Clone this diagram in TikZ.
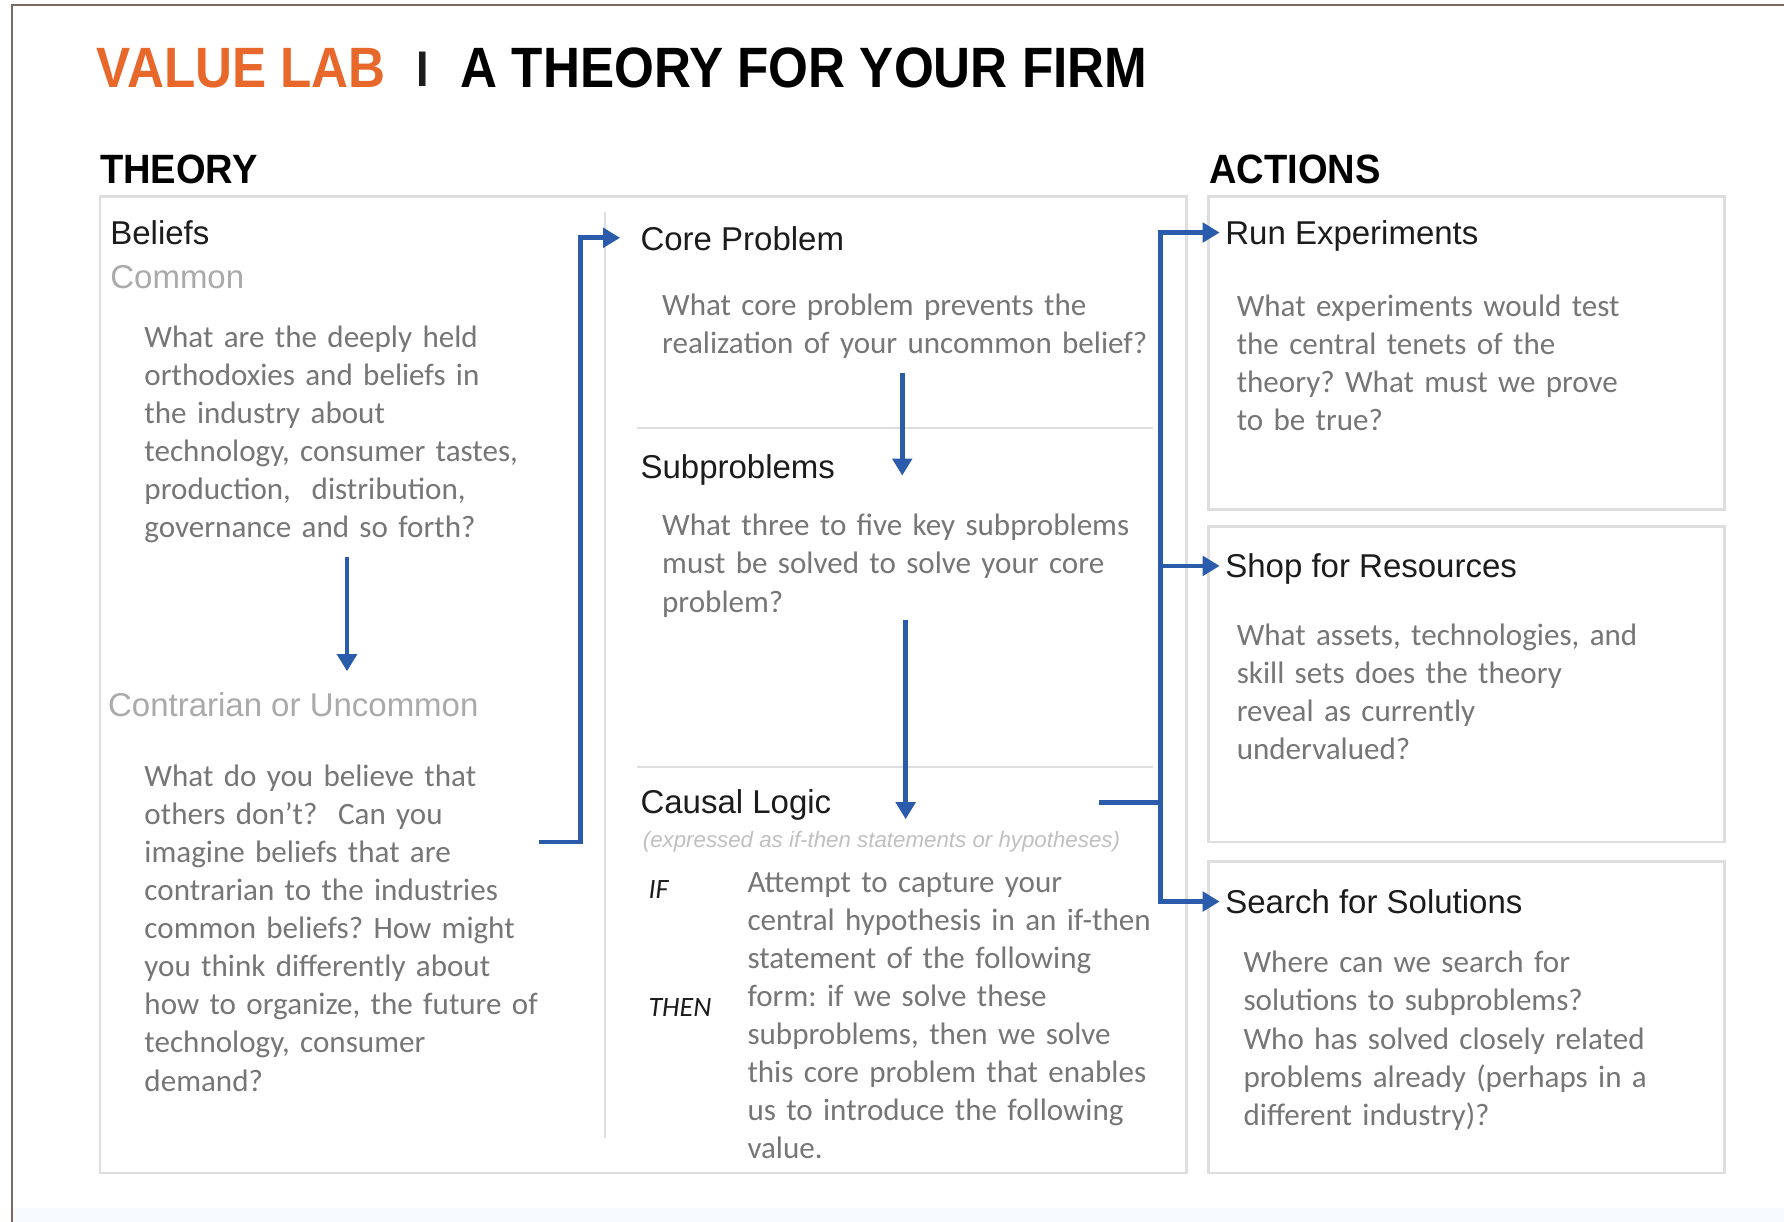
\documentclass[tikz,border=0pt]{standalone}
\usepackage{fontspec}
\setmainfont{Carlito}
\newfontfamily\sansfont{Liberation Sans}
\newfontfamily\titlefont[FakeStretch=0.9]{Liberation Sans}
\newfontfamily\sectfont[FakeStretch=0.93]{Liberation Sans}
\usetikzlibrary{arrows.meta}
\frenchspacing

\definecolor{labOrange}{RGB}{232,104,44}
\definecolor{flowBlue}{RGB}{43,92,171}
\definecolor{bodyGray}{RGB}{118,118,118}
\definecolor{subGray}{RGB}{170,170,170}
\definecolor{noteGray}{RGB}{192,192,192}
\definecolor{panelLine}{RGB}{222,222,222}
\definecolor{frameLine}{RGB}{122,106,100}
\definecolor{inkBlack}{RGB}{28,28,28}
\definecolor{footBand}{RGB}{246,250,252}

\begin{document}
\begin{tikzpicture}[x=0.5pt,y=-0.5pt,
  txt/.style={anchor=base west, inner sep=0pt, outer sep=0pt},
  heading/.style={txt, font=\sansfont\fontsize{14.5}{17}\selectfont, text=inkBlack},
  subhead/.style={txt, font=\sansfont\fontsize{14.5}{17}\selectfont, text=subGray},
  body/.style={txt, font=\fontsize{13.65}{16.75}\selectfont, text=bodyGray,
    align=left, text width=#1},
  body/.default=220pt,
  section/.style={txt, font=\sectfont\bfseries\fontsize{18}{20}\selectfont, text=black},
  panel/.style={draw=panelLine, line width=1.2pt},
  divider/.style={draw=panelLine, line width=0.9pt},
  flow/.style={draw=flowBlue, line width=2.1pt, line join=miter,
    -{Triangle[length=7.5pt,width=8.5pt]}},
]
\useasboundingbox (0,0) rectangle (1568,1074);

% page background, bottom band and frame
\fill[white] (0,0) rectangle (1568,1074);
\fill[footBand] (11,1062) rectangle (1568,1074);
\draw[frameLine, line width=1pt] (10.5,1074) -- (10.5,4.5) -- (1568,4.5);

% title line
\node[txt, font=\titlefont\bfseries\fontsize{25}{28}\selectfont, text=labOrange]
  (brand) at (85,77) {VALUE LAB};
\node[txt, font=\titlefont\bfseries\fontsize{22}{26}\selectfont, text=inkBlack]
  (bar) at (366,76) {I};
\node[txt, font=\titlefont\bfseries\fontsize{25}{28}\selectfont, text=black]
  (title) at (405,77) {A THEORY FOR YOUR FIRM};

% column headings
\node[section] (theory) at (88,161) {THEORY};
\node[section] (actions) at (1063,161) {ACTIONS};

% panels
\draw[panel] (88,173) rectangle (1043,1031);
\draw[divider] (532,186) -- (532,1000);
\draw[divider] (560,376) -- (1013,376);
\draw[divider] (560,674) -- (1013,674);
\draw[panel] (1062,173) rectangle (1516,448);
\draw[panel] (1062,463) rectangle (1516,740);
\draw[panel] (1062,757) rectangle (1516,1031);

% beliefs column
\node[heading] (beliefs) at (97,215) {Beliefs};
\node[subhead] (common) at (97,254) {Common};
\node[body] (commonq) at (127,305) {What are the deeply held\\
  orthodoxies and beliefs in\\
  the industry about\\
  technology, consumer tastes,\\
  production,~ distribution,\\
  governance and so forth?};
\node[subhead] (contrarian) at (95,630) {Contrarian or Uncommon};
\node[body] (contrarianq) at (127,691) {What do you believe that\\
  others don’t?~ Can you\\
  imagine beliefs that are\\
  contrarian to the industries\\
  common beliefs? How might\\
  you think differently about\\
  how to organize, the future of\\
  technology, consumer\\
  demand?};

% problem column
\node[heading] (core) at (563,220) {Core Problem};
\node[body=240pt] (coreq) at (582,277) {What core problem prevents the\\
  realization of your uncommon belief?};
\node[heading] (sub) at (563,421) {Subproblems};
\node[body=240pt] (subq) at (582,471) {What three to five key subproblems\\
  must be solved to solve your core\\
  problem?};
\node[heading] (causal) at (563,715) {Causal Logic};
\node[txt, font=\sansfont\itshape\fontsize{9.8}{12}\selectfont, text=noteGray]
  (causalnote) at (565,745) {(expressed as if-then statements or hypotheses)};
\node[txt, font=\itshape\fontsize{12.3}{14}\selectfont, text=inkBlack] (ifword) at (570,790) {IF};
\node[txt, font=\itshape\fontsize{12.3}{14}\selectfont, text=inkBlack] (thenword) at (570,893) {THEN};
\node[body=200pt] (causalq) at (657,784) {Attempt to capture your\\
  central hypothesis in an if-then\\
  statement of the following\\
  form: if we solve these\\
  subproblems, then we solve\\
  this core problem that enables\\
  us to introduce the following\\
  value.};

% actions column
\node[heading] (run) at (1077,215) {Run Experiments};
\node[body] (runq) at (1087,278) {What experiments would test\\
  the central tenets of the\\
  theory? What must we prove\\
  to be true?};
\node[heading] (shop) at (1077,508) {Shop for Resources};
\node[body] (shopq) at (1087,567) {What assets, technologies, and\\
  skill sets does the theory\\
  reveal as currently\\
  undervalued?};
\node[heading] (search) at (1077,803) {Search for Solutions};
\node[body] (searchq) at (1093,855) {Where can we search for\\
  solutions to subproblems?\\
  Who has solved closely related\\
  problems already (perhaps in a\\
  different industry)?};

% connector end points
\coordinate (commonOut) at (305,490);
\coordinate (contrarianIn) at (305,590);
\coordinate (beliefOut) at (474,740);
\coordinate (coreIn) at ([xshift=-9pt,yshift=5.5pt]core.base west);
\coordinate (coreOut) at (793,328);
\coordinate (subIn) at (793,418);
\coordinate (subOut) at (796,545);
\coordinate (causalIn) at (796,720);
\coordinate (causalOut) at (966,705);
\coordinate (runIn) at ([xshift=-2.5pt,yshift=5.3pt]run.base west);
\coordinate (shopIn) at ([xshift=-2.5pt,yshift=5.3pt]shop.base west);
\coordinate (searchIn) at ([xshift=-2.5pt,yshift=5.3pt]search.base west);

% connectors
\draw[flow] (commonOut) -- (contrarianIn);
\draw[flow] (beliefOut) -- ++(36,0) |- (coreIn);
\draw[flow] (coreOut) -- (subIn);
\draw[flow] (subOut) -- (causalIn);
\draw[flow] (causalOut) -- ++(54,0) |- (runIn);
\draw[flow] (causalOut) -- ++(54,0) |- (shopIn);
\draw[flow] (causalOut) -- ++(54,0) |- (searchIn);
\end{tikzpicture}
\end{document}
